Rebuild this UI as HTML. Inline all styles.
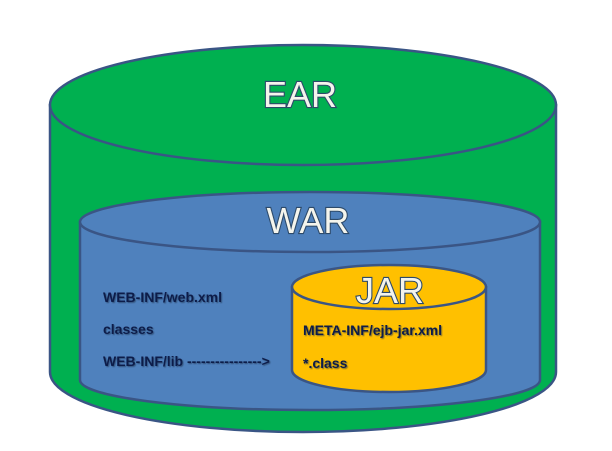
<!DOCTYPE html>
<html><head><style>
html,body{margin:0;padding:0;background:#fff;}
svg{display:block;}
.big{font-family:"Liberation Sans",sans-serif;font-size:36px;fill:#f4f4ec;stroke:#2d4a6a;stroke-width:2.2px;paint-order:stroke;text-anchor:middle;}
.sm{font-family:"Liberation Sans",sans-serif;font-size:14px;font-weight:bold;fill:#0d1e4a;}
</style></head><body>
<svg width="612" height="451" viewBox="0 0 612 451">
<defs><filter id="sh"><feDropShadow dx="1" dy="1" stdDeviation="0.6" flood-color="#203050" flood-opacity="0.6"/></filter></defs>
<path d="M50 105 L50 372 A253 60 0 0 0 556 372 L556 105 Z" fill="#00b050" stroke="#3a5585" stroke-width="2.5"/>
<ellipse cx="303" cy="105" rx="253" ry="60" fill="#00b050" stroke="#3a5585" stroke-width="2.5"/>
<text class="big" x="300" y="107">EAR</text>
<path d="M80 222 L80 380 A230 30 0 0 0 540 380 L540 222 Z" fill="#4f81bd" stroke="#3a5585" stroke-width="2.5"/>
<ellipse cx="310" cy="222" rx="230" ry="30" fill="#4f81bd" stroke="#3a5585" stroke-width="2.5"/>
<text class="big" x="308" y="233">WAR</text>
<path d="M292 287 L292 370 A97 22 0 0 0 486 370 L486 287 Z" fill="#ffc000" stroke="#3a5585" stroke-width="2.5"/>
<ellipse cx="389" cy="287" rx="97" ry="22" fill="#ffc000" stroke="#3a5585" stroke-width="2.5"/>
<text class="big" x="390" y="303">JAR</text>
<g filter="url(#sh)">
<text class="sm" x="103" y="302">WEB-INF/web.xml</text>
<text class="sm" x="103" y="334">classes</text>
<text class="sm" x="103" y="366">WEB-INF/lib ----------------&gt;</text>
<text class="sm" x="303" y="335">META-INF/ejb-jar.xml</text>
<text class="sm" x="303" y="368">*.class</text>
</g>
</svg>
</body></html>
